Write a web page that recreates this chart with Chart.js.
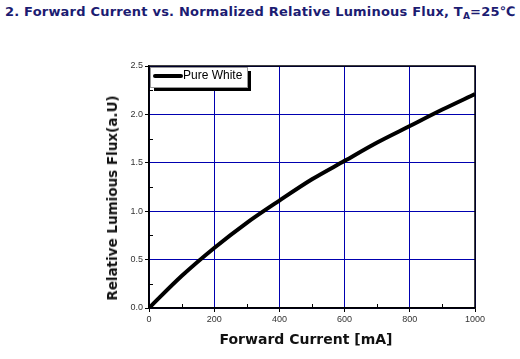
<!DOCTYPE html>
<html>
<head>
<meta charset="utf-8">
<script src="https://cdn.jsdelivr.net/npm/chart.js@4"></script>
<style>
  body { margin: 0; background: #fff; width: 520px; height: 359px; overflow: hidden; position: relative; font-family: "DejaVu Sans", Verdana, sans-serif; }
  #title { position: absolute; left: 5px; top: 4px; font-size: 13px; font-weight: bold; color: #1c1c72; white-space: nowrap; letter-spacing: 0.2px; }
  #title sub { font-size: 9px; vertical-align: -3px; }
  #xt { position: absolute; left: 0; width: 612px; top: 331px; text-align: center; font-size: 14px; font-weight: bold; color: #111; }
  #yt { position: absolute; left: 112px; top: 198px; transform: translate(-50%, -50%) rotate(-90deg); font-size: 13.5px; font-weight: bold; color: #111; white-space: nowrap; }
  #wrap { position: absolute; left: 0; top: 0; width: 520px; height: 359px; }
</style>
</head>
<body>
<div id="title">2. Forward Current vs. Normalized Relative Luminous Flux, T<sub>A</sub>=25℃</div>
<div id="wrap"><canvas id="c" width="520" height="359"></canvas></div>
<div id="xt">Forward Current [mA]</div>
<div id="yt">Relative Lumious Flux(a.U)</div>
<script>
const currents = [0, 100, 200, 300, 400, 500, 600, 700, 800, 900, 1000];
const flux = [0, 0.33, 0.62, 0.88, 1.11, 1.33, 1.52, 1.71, 1.88, 2.05, 2.21];
const seriesName = "Pure White";

const frame = {
  id: "frame",
  afterDraw(chart) {
    const { ctx, chartArea: a, scales } = chart;
    ctx.save();
    ctx.strokeStyle = "#000";
    ctx.lineWidth = 1.5;
    ctx.strokeRect(a.left, a.top, a.right - a.left, a.bottom - a.top);
    // minor ticks pointing inward
    ctx.lineWidth = 1;
    [100, 300, 500, 700, 900].forEach((v) => {
      const x = Math.round(scales.x.getPixelForValue(v)) + 0.5;
      ctx.beginPath(); ctx.moveTo(x, a.bottom); ctx.lineTo(x, a.bottom - 4); ctx.stroke();
    });
    [0.25, 0.75, 1.25, 1.75, 2.25].forEach((v) => {
      const y = Math.round(scales.y.getPixelForValue(v)) + 0.5;
      ctx.beginPath(); ctx.moveTo(a.left, y); ctx.lineTo(a.left + 4, y); ctx.stroke();
    });
    // legend box
    const lx = a.left + 1, ly = a.top + 1, lw = 97, lh = 20;
    ctx.fillStyle = "#000";
    ctx.fillRect(lx + 4, ly + 4, lw, lh);
    ctx.fillStyle = "#fff";
    ctx.fillRect(lx, ly, lw, lh);
    ctx.strokeStyle = "#999";
    ctx.lineWidth = 1;
    ctx.strokeRect(lx + 0.5, ly + 0.5, lw, lh);
    ctx.strokeStyle = "#000";
    ctx.lineWidth = 4;
    ctx.lineCap = "round";
    ctx.beginPath(); ctx.moveTo(lx + 5, ly + 9); ctx.lineTo(lx + 31, ly + 9); ctx.stroke();
    ctx.fillStyle = "#000";
    ctx.font = "12px 'Liberation Sans', Arial, sans-serif";
    ctx.textBaseline = "middle";
    ctx.fillText(seriesName, lx + 33, ly + 9);
    ctx.restore();
  }
};

new Chart(document.getElementById("c"), {
  type: "line",
  data: {
    datasets: [{
      label: seriesName,
      data: currents.map((x, i) => ({ x, y: flux[i] })),
      borderColor: "#000",
      borderWidth: 4,
      pointRadius: 0,
      cubicInterpolationMode: "monotone",
      fill: false
    }]
  },
  options: {
    responsive: false,
    animation: false,
    layout: { padding: { top: 66, right: 45, left: 0, bottom: 0 } },
    plugins: { legend: { display: false }, tooltip: { enabled: false } },
    scales: {
      x: {
        type: "linear", min: 0, max: 1000,
        afterFit: (s) => { s.height = 51; },
        ticks: { stepSize: 200, color: "#333", font: { size: 9, family: "'Liberation Sans', Arial" }, padding: 2, maxRotation: 0, callback: (v) => String(v) },
        grid: { color: "#0000b0", lineWidth: 1, tickColor: "#000", tickLength: 4, drawTicks: true },
        border: { color: "#000", width: 1.5 }
      },
      y: {
        min: 0, max: 2.5,
        afterFit: (s) => { s.width = 149; },
        ticks: { stepSize: 0.5, color: "#333", font: { size: 9, family: "'Liberation Sans', Arial" }, padding: 2, callback: (v) => Number(v).toFixed(1) },
        grid: { color: "#0000b0", lineWidth: 1, tickColor: "#000", tickLength: 4 },
        border: { color: "#000", width: 1.5 }
      }
    }
  },
  plugins: [frame]
});
</script>
</body>
</html>
